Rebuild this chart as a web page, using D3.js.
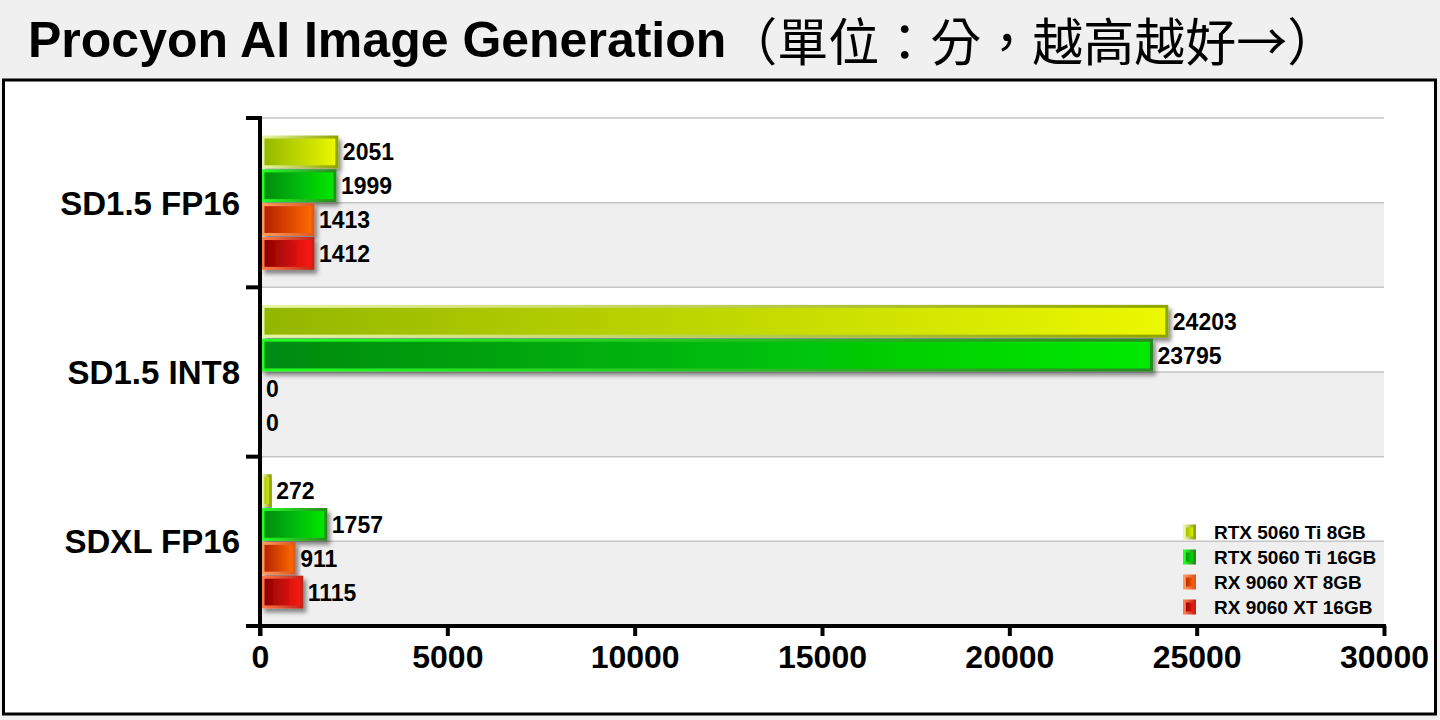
<!DOCTYPE html>
<html>
<head>
<meta charset="utf-8">
<script src="https://cdn.jsdelivr.net/npm/d3@7"></script>
<style>
  html, body { margin: 0; padding: 0; background: #f0f0f0; }
  svg { display: block; }
  text { font-family: "Liberation Sans", Arial, sans-serif; font-weight: bold; fill: #000; }
</style>
</head>
<body>
<svg id="chart"></svg>
<script>
// data
const categories = ["SD1.5 FP16", "SD1.5 INT8", "SDXL FP16"];
const seriesNames = ["RTX 5060 Ti 8GB", "RTX 5060 Ti 16GB", "RX 9060 XT 8GB", "RX 9060 XT 16GB"];
const rtx8Values = [2051, 24203, 272];
const rtx16Values = [1999, 23795, 1757];
const rx8Values = [1413, 0, 911];
const rx16Values = [1412, 0, 1115];
const xTicks = [0, 5000, 10000, 15000, 20000, 25000, 30000];

const seriesValues = [rtx8Values, rtx16Values, rx8Values, rx16Values];

// colours: [fill left, fill right, stroke left, stroke right]
const seriesColors = [
    ["#93b600", "#ecf800", "#eaf6a8", "#8ea400"],
    ["#008a12", "#00ea00", "#22ff22", "#2c8a22"],
    ["#b41e00", "#ff6c04", "#ff9a5c", "#e0581e"],
    ["#880000", "#ff1a14", "#ff7a48", "#c42418"]
];

const width = 1440, height = 720;
const plot = { left: 260, right: 1384, top: 118, bottom: 626 };

const svg = d3.select("#chart")
    .attr("width", width)
    .attr("height", height);

const defs = svg.append("defs");

// drop shadow for the bars
const shadow = defs.append("filter")
    .attr("id", "shadow")
    .attr("x", "-10%").attr("y", "-30%")
    .attr("width", "130%").attr("height", "180%");
shadow.append("feDropShadow")
    .attr("dx", 3).attr("dy", 4)
    .attr("stdDeviation", 2)
    .attr("flood-color", "#000")
    .attr("flood-opacity", 0.45);

seriesColors.forEach((c, i) => {
    const fg = defs.append("linearGradient")
        .attr("id", "fill" + i)
        .attr("x1", 0).attr("y1", 0).attr("x2", 1).attr("y2", 0);
    fg.append("stop").attr("offset", "0%").attr("stop-color", c[0]);
    fg.append("stop").attr("offset", "100%").attr("stop-color", c[1]);
    const sg = defs.append("linearGradient")
        .attr("id", "stroke" + i)
        .attr("x1", 0).attr("y1", 0).attr("x2", 1).attr("y2", 0);
    sg.append("stop").attr("offset", "0%").attr("stop-color", c[2]);
    sg.append("stop").attr("offset", "100%").attr("stop-color", c[3]);
});

// title
const title = svg.append("text")
    .attr("x", 28)
    .attr("y", 57)
    .attr("font-size", 50);
title.append("tspan").text("Procyon AI Image Generation");
title.append("tspan")
    .attr("dy", 4)
    .attr("font-family", "'Noto Sans CJK TC', 'Noto Sans CJK SC', sans-serif")
    .attr("font-weight", "normal")
    .attr("font-size", 51)
    .text("（單位：分，越高越好→）");

// chart frame
svg.append("rect")
    .attr("x", 3.5).attr("y", 80)
    .attr("width", 1432).attr("height", 634)
    .attr("fill", "#fff")
    .attr("stroke", "#000")
    .attr("stroke-width", 3);

// scales
const x = d3.scaleLinear()
    .domain([0, 30000])
    .range([plot.left, plot.right]);

const y = d3.scaleBand()
    .domain(categories)
    .range([plot.top, plot.bottom]);

const half = y.bandwidth() / 2;

const ySeries = d3.scaleBand()
    .domain(d3.range(seriesNames.length))
    .range([17, y.bandwidth() - 17])
    .paddingInner(0.12)
    .paddingOuter(0.06);

// alternating bands and gridlines
const bands = svg.append("g");
categories.forEach(cat => {
    bands.append("rect")
        .attr("x", plot.left).attr("y", y(cat) + half)
        .attr("width", plot.right - plot.left).attr("height", half)
        .attr("fill", "#efefef");
});
const gridYs = [];
categories.forEach(cat => { gridYs.push(y(cat), y(cat) + half); });
gridYs.push(plot.bottom);
bands.selectAll("line")
    .data(gridYs)
    .join("line")
    .attr("x1", plot.left).attr("x2", plot.right)
    .attr("y1", d => d).attr("y2", d => d)
    .attr("stroke", "#c4c4c4")
    .attr("stroke-width", 1.5);

// bars
const barGroup = svg.append("g");
categories.forEach((cat, ci) => {
    seriesValues.forEach((vals, si) => {
        const v = vals[ci];
        const by = y(cat) + ySeries(si);
        barGroup.append("rect")
            .attr("x", x(0) + 3)
            .attr("y", by)
            .attr("width", Math.max(x(v) - x(0) - 3, 0))
            .attr("height", ySeries.bandwidth())
            .attr("fill", `url(#fill${si})`)
            .attr("stroke", `url(#stroke${si})`)
            .attr("stroke-width", 3)
            .attr("filter", "url(#shadow)");
        barGroup.append("text")
            .attr("x", x(v) + 6)
            .attr("y", by + ySeries.bandwidth() / 2)
            .attr("dy", "0.37em")
            .attr("font-size", 23)
            .text(v);
    });
});

// x axis
const xAxis = svg.append("g")
    .attr("transform", `translate(0, ${plot.bottom})`)
    .call(d3.axisBottom(x).tickValues(xTicks).tickSize(10).tickPadding(9).tickFormat(d3.format("d")));
xAxis.select(".domain").remove();
xAxis.selectAll(".tick line").attr("stroke", "#000").attr("stroke-width", 4);
xAxis.selectAll(".tick text")
    .attr("font-size", 32)
    .attr("font-family", "'Liberation Sans', Arial, sans-serif")
    .attr("font-weight", "bold");
svg.append("line")
    .attr("x1", 246).attr("x2", plot.right + 2)
    .attr("y1", plot.bottom).attr("y2", plot.bottom)
    .attr("stroke", "#000").attr("stroke-width", 4);

// y axis
svg.append("line")
    .attr("x1", plot.left).attr("x2", plot.left)
    .attr("y1", plot.top - 2).attr("y2", plot.bottom + 10)
    .attr("stroke", "#000").attr("stroke-width", 4);
const yTickPos = categories.map(c => y(c)).concat([plot.bottom]);
svg.append("g")
    .selectAll("line")
    .data(yTickPos)
    .join("line")
    .attr("x1", 246).attr("x2", plot.left)
    .attr("y1", d => d).attr("y2", d => d)
    .attr("stroke", "#000").attr("stroke-width", 4);
svg.append("g")
    .selectAll("text")
    .data(categories)
    .join("text")
    .attr("x", 240)
    .attr("y", d => y(d) + half)
    .attr("dy", "0.36em")
    .attr("text-anchor", "end")
    .attr("font-size", 33)
    .text(d => d);

// legend
const legend = svg.append("g")
    .attr("transform", "translate(1183, 532)");
seriesNames.forEach((name, i) => {
    const row = legend.append("g").attr("transform", `translate(0, ${i * 25})`);
    row.append("rect")
        .attr("x", 1.5).attr("y", -6)
        .attr("width", 10).attr("height", 12)
        .attr("fill", `url(#fill${i})`)
        .attr("stroke", `url(#stroke${i})`)
        .attr("stroke-width", 3);
    row.append("text")
        .attr("x", 31)
        .attr("dy", "0.36em")
        .attr("font-size", 19)
        .text(name);
});
</script>
</body>
</html>
